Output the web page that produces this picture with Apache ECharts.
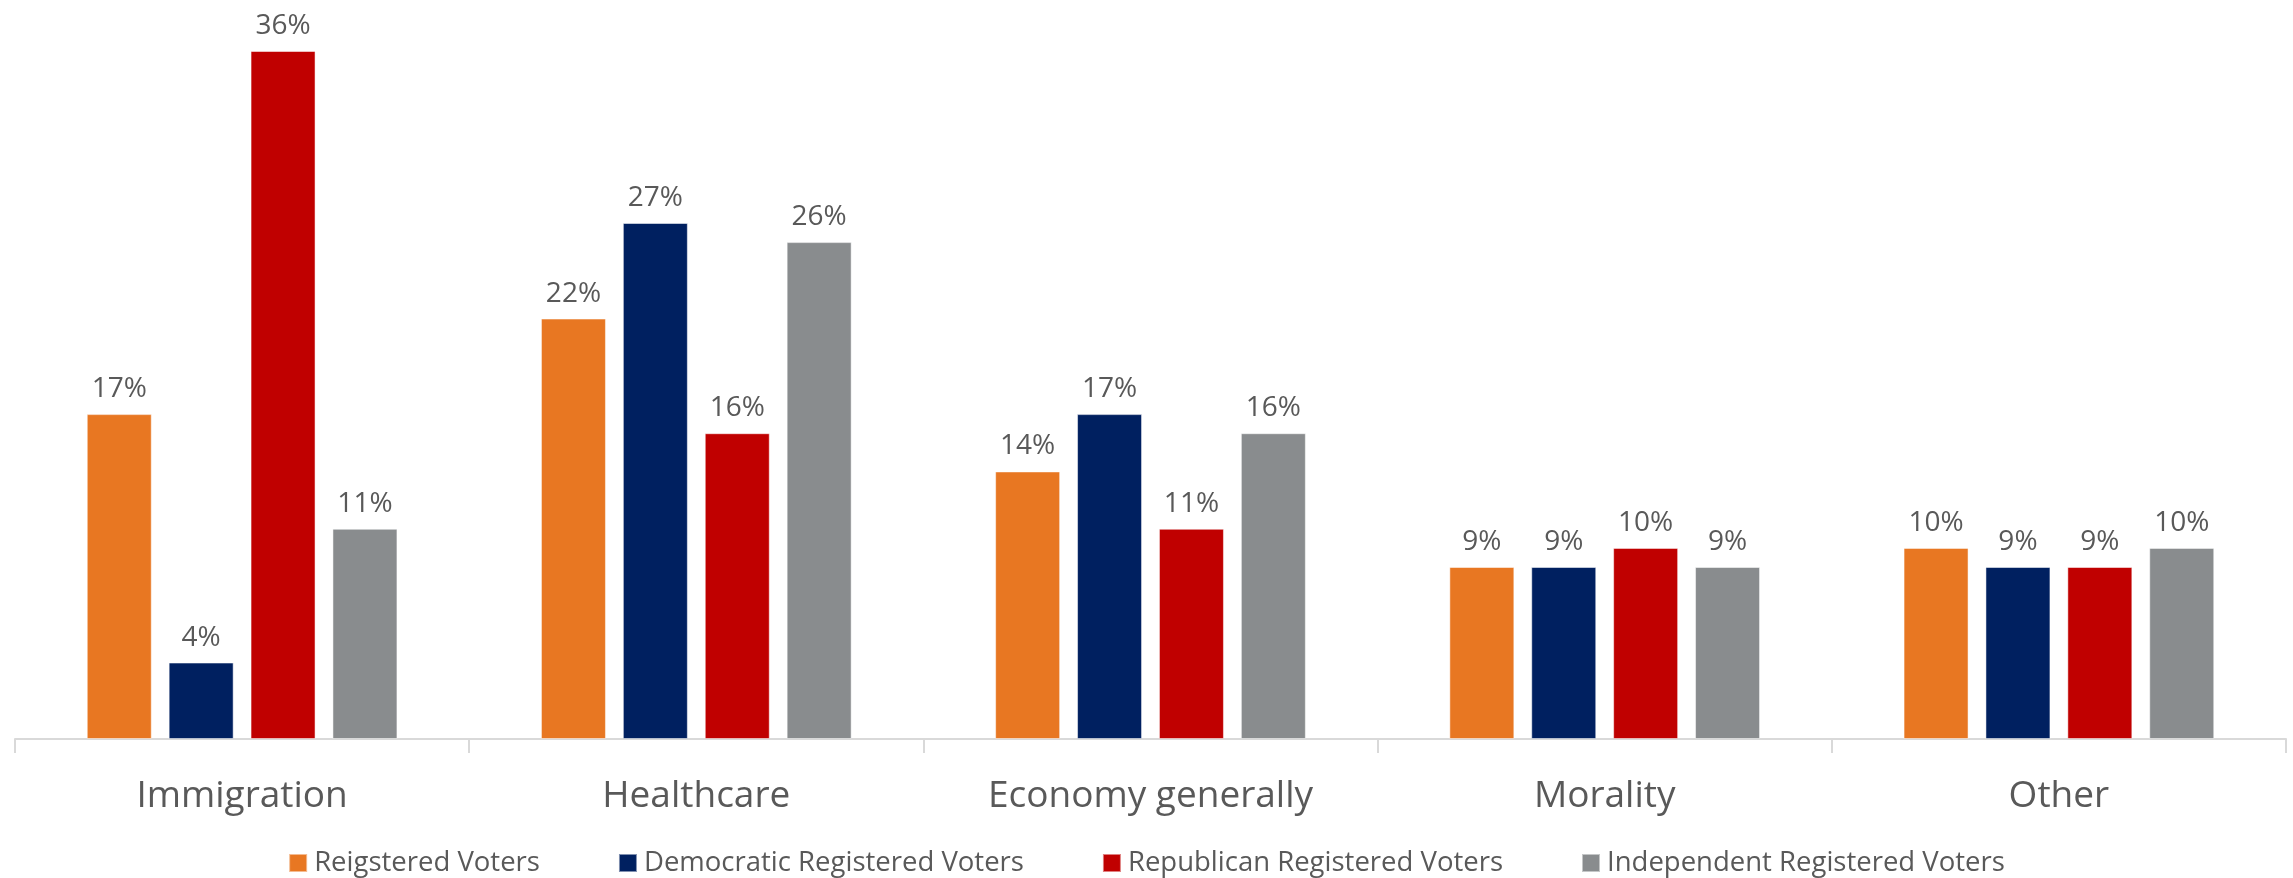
<!DOCTYPE html>
<html>
<head>
<meta charset="utf-8">
<script src="https://cdn.jsdelivr.net/npm/echarts@6/dist/echarts.min.js"></script>
<style>html,body{margin:0;padding:0;background:#fff}#c{width:2293px;height:878px}</style>
</head>
<body>
<div id="c"></div>
<script>
const categories = ["Immigration", "Healthcare", "Economy generally", "Morality", "Other"];
const seriesNames = ["Reigstered Voters", "Democratic Registered Voters", "Republican Registered Voters", "Independent Registered Voters"];
const registered = [17, 22, 14, 9, 10];
const democratic = [4, 27, 17, 9, 9];
const republican = [36, 16, 11, 10, 9];
const independent = [11, 26, 16, 9, 10];
const colors = ["#E87722", "#002060", "#C00000", "#898C8E"];

const values = [registered, democratic, republican, independent];
const chart = echarts.init(document.getElementById('c'));
chart.setOption({
  animation: false,
  color: colors,
  textStyle: { fontFamily: "Open Sans" },
  grid: { left: 15, right: 7, top: 51, bottom: 139, containLabel: false },
  legend: {
    bottom: -4, left: 'center',
    itemWidth: 18, itemHeight: 18, itemGap: 78,
    icon: 'rect',
    textStyle: { color: '#595959', fontSize: 27.5, fontFamily: "Open Sans", padding: [0, 0, 0, 2] },
    data: seriesNames
  },
  xAxis: {
    type: 'category',
    data: categories,
    axisLine: { lineStyle: { color: '#D9D9D9', width: 2 } },
    axisTick: { show: true, length: 14, lineStyle: { color: '#D9D9D9', width: 2 } },
    axisLabel: { color: '#595959', fontSize: 37, margin: 39, fontFamily: "Open Sans" }
  },
  yAxis: {
    type: 'value', min: 0, max: 36,
    show: false,
    splitLine: { show: false }
  },
  series: values.map((v, i) => ({
    name: seriesNames[i],
    type: 'bar',
    data: v,
    barWidth: 65,
    barGap: '26%',
    itemStyle: { color: colors[i], borderColor: 'rgba(255,255,255,0.5)', borderWidth: 1 },
    label: {
      show: true, position: 'top', distance: 11,
      formatter: p => p.value + '%',
      color: '#595959', fontSize: 28, fontFamily: "Open Sans"
    }
  }))
});
</script>
</body>
</html>
